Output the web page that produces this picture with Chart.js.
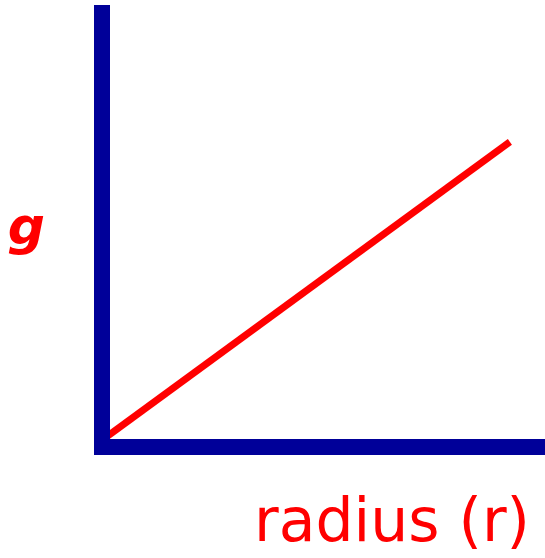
<!DOCTYPE html>
<html>
<head>
<meta charset="utf-8">
<script src="https://cdn.jsdelivr.net/npm/chart.js@4/dist/chart.umd.min.js"></script>
<style>
  html, body { margin: 0; padding: 0; background: #ffffff; }
  #wrap { width: 545px; height: 558px; }
</style>
</head>
<body>
<div id="wrap"><canvas id="c" width="545" height="558"></canvas></div>
<script>
// ---- data ----
const radiusValues = [0, 95.3];     // r (arbitrary units)
const gValues      = [1.6, 70.3];   // g (arbitrary units)
const yLabelText   = 'g';
const yLabelAt     = [49.8];        // where the "g" label sits on the y scale
const xTitleText   = 'radius (r)';

const AXIS_BLUE = '#000099';
const RED = '#ff0000';

const points = radiusValues.map((r, i) => ({ x: r, y: gValues[i] }));

new Chart(document.getElementById('c'), {
  type: 'scatter',
  data: {
    datasets: [{
      data: points,
      showLine: true,
      borderColor: RED,
      backgroundColor: RED,
      borderWidth: 7,
      pointRadius: 0,
      pointHoverRadius: 0,
      fill: false
    }]
  },
  options: {
    responsive: false,
    animation: false,
    events: [],
    layout: { padding: { top: 13, right: 15, left: 0, bottom: 0 } },
    plugins: { legend: { display: false }, tooltip: { enabled: false } },
    scales: {
      x: {
        type: 'linear',
        min: 0, max: 100,
        grid: { display: false, drawTicks: false, lineWidth: 30 },
        border: { display: true, color: AXIS_BLUE, width: 16, z: 1 },
        ticks: { display: false },
        title: {
          display: true,
          text: xTitleText,
          align: 'end',
          color: RED,
          font: { family: 'DejaVu Sans', size: 60, lineHeight: 1 },
          padding: { top: 0, bottom: 3 }
        },
        afterFit: (s) => { s.height = 111; s.paddingLeft = 0; s.paddingRight = 0; }
      },
      y: {
        type: 'linear',
        min: 0, max: 100,
        grid: { display: false, drawTicks: false, lineWidth: 16 },
        border: { display: true, color: AXIS_BLUE, width: 16, z: 1 },
        afterBuildTicks: (s) => { s.ticks = yLabelAt.map(v => ({ value: v })); },
        ticks: {
          display: true,
          autoSkip: false,
          padding: 57,
          color: RED,
          font: { family: 'DejaVu Sans', size: 52, style: 'italic', weight: 'bold' },
          callback: () => yLabelText
        },
        afterFit: (s) => { s.width = 102; s.paddingTop = 0; s.paddingBottom = 0; }
      }
    }
  }
});
</script>
</body>
</html>
